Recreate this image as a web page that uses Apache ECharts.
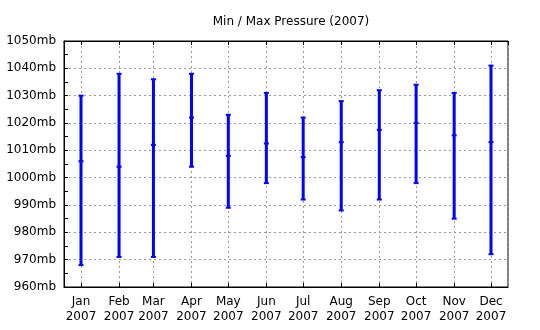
<!DOCTYPE html>
<html><head><meta charset="utf-8">
<script src="https://cdn.jsdelivr.net/npm/echarts@6/dist/echarts.min.js"></script>
<style>html,body{margin:0;padding:0;background:#fff}#c{width:540px;height:330px}</style>
</head><body><div id="c"></div>
<script>
const months = ['2007-01-01','2007-02-01','2007-03-01','2007-04-01','2007-05-01','2007-06-01','2007-07-01','2007-08-01','2007-09-01','2007-10-01','2007-11-01','2007-12-01'];
const maxP = [1030, 1038, 1036, 1038, 1023, 1031, 1022, 1028, 1032, 1034, 1031, 1041];
const avgP = [1006, 1004, 1012, 1022, 1008, 1012.5, 1007.5, 1013, 1017.5, 1020, 1015.5, 1013];
const minP = [968, 971, 971, 1004, 989, 998, 992, 988, 992, 998, 985, 972];
const monthNames = ['Jan','Feb','Mar','Apr','May','Jun','Jul','Aug','Sep','Oct','Nov','Dec'];
const yTicks = {min: 960, max: 1050, step: 10};

const data = months.map((m, i) => [m, minP[i], avgP[i], maxP[i]]);
const DAY = 86400000;
const pad = 13.85 * DAY;
const xMin = Date.UTC(2007, 0, 1) - pad;
const xMax = Date.UTC(2007, 11, 1) + pad;
const font = 'DejaVu Sans';

const chart = echarts.init(document.getElementById('c'), null, {renderer: 'canvas'});
chart.setOption({
  useUTC: true,
  animation: false,
  backgroundColor: '#fff',
  title: {text: 'Min / Max Pressure (2007)', left: 286, textAlign: 'center', top: 11,
    textStyle: {fontFamily: font, fontSize: 12, fontWeight: 'normal', color: '#000'}},
  grid: {left: 64, top: 41, right: 32, bottom: 43, show: true, borderColor: '#000', borderWidth: 1},
  xAxis: [{
    type: 'time', min: xMin, max: xMax,
    minInterval: 28 * DAY, maxInterval: 31 * DAY, splitNumber: 12,
    axisLine: {lineStyle: {color: '#000'}},
    axisTick: {inside: true, length: 4, lineStyle: {color: '#000'}},
    axisLabel: {fontFamily: font, fontSize: 12, color: '#000', margin: 7, lineHeight: 15,
      formatter: v => { const d = new Date(v); return monthNames[d.getUTCMonth()] + '\n' + d.getUTCFullYear(); }},
    splitLine: {show: true, lineStyle: {color: '#999', type: [2, 3]}}
  }, {
    type: 'time', position: 'top', min: xMin, max: xMax,
    minInterval: 28 * DAY, maxInterval: 31 * DAY, splitNumber: 12,
    axisLine: {lineStyle: {color: '#000'}},
    axisTick: {inside: true, length: 4, lineStyle: {color: '#000'}},
    axisLabel: {show: false}, splitLine: {show: false}
  }],
  yAxis: {
    type: 'value', min: yTicks.min, max: yTicks.max, interval: yTicks.step,
    axisLine: {show: true, lineStyle: {color: '#000'}},
    axisTick: {show: true, inside: true, length: 4, lineStyle: {color: '#000'}},
    minorTick: {show: true, splitNumber: 2, length: 4, lineStyle: {color: '#000'}},
    axisLabel: {fontFamily: font, fontSize: 12, color: '#000', margin: 8, formatter: v => v + 'mb'},
    splitLine: {show: true, lineStyle: {color: '#999', type: [2, 3]}}
  },
  series: [{
    type: 'custom',
    data: data,
    encode: {x: 0, y: [1, 2, 3]},
    renderItem: (params, api) => {
      const x = api.value(0);
      const lo = api.coord([x, api.value(1)]);
      const mid = api.coord([x, api.value(2)]);
      const hi = api.coord([x, api.value(3)]);
      const c = '#0000ff';
      const cap = p => ({type: 'rect', shape: {x: p[0] - 2.5, y: p[1] - 1, width: 5, height: 2}, style: {fill: c}});
      return {type: 'group', children: [
        {type: 'line', shape: {x1: lo[0], y1: lo[1], x2: hi[0], y2: hi[1]}, style: {stroke: c, lineWidth: 3}},
        cap(lo), cap(mid), cap(hi)
      ]};
    }
  }]
});
</script></body></html>
